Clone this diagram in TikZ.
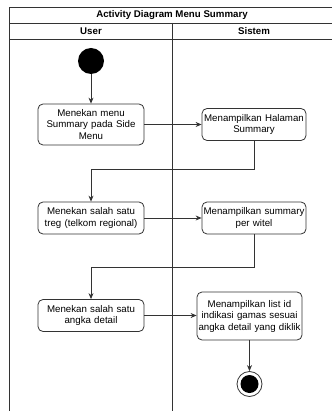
\documentclass[tikz,border=0pt]{standalone}
\usepackage{fontspec}
\setmainfont{Liberation Sans}
\usetikzlibrary{positioning,arrows.meta}
\definecolor{Line}{HTML}{333333}

\begin{document}
\begin{tikzpicture}[x=1pt, y=1pt, every node/.style={font=\fontsize{9.7}{11.5}\selectfont}]
        \tikzstyle{act}=[draw=Line, line width=0.8pt, rounded corners=5pt, align=center, inner sep=1pt, minimum height=32pt]
        \tikzstyle{flow}=[->, >={Stealth[length=6pt, width=5pt]}, line width=0.8pt, Line]
        \tikzstyle{lane}=[font=\fontsize{9.7}{11.5}\selectfont\bfseries]
        \useasboundingbox (0,0) rectangle (331,-411);
        % swimlane frame
        \draw[Line, line width=0.8pt] (9,-411) -- (9,-7) -- (340,-7);
        \draw[Line, line width=0.8pt] (9,-23) -- (340,-23);
        \draw[Line, line width=0.8pt] (9,-39) -- (340,-39);
        \draw[Line, line width=0.8pt] (172,-23) -- (172,-411);
        \node[lane] (title) at (172,-15) {Activity Diagram Menu Summary};
        \node[lane] (user) at (91,-31) {User};
        \node[lane] (sistem) at (254,-31) {Sistem};
        % actions
        \node[circle, fill=black, minimum size=26pt, inner sep=0pt] (start) at (91,-61) {};
        \node[act, minimum width=106pt, minimum height=41pt, text width=100pt] (menu) at (91,-124.5) {Menekan menu\\Summary pada Side\\Menu};
        \node[act, minimum width=104pt, text width=102pt] (halaman) at (254,-124.5) {Menampilkan Halaman\\Summary};
        \node[act, minimum width=106pt, text width=104pt] (treg) at (91,-218) {Menekan salah satu\\treg (telkom regional)};
        \node[act, minimum width=104pt, text width=102pt] (witel) at (254,-218) {Menampilkan summary\\per witel};
        \node[act, minimum width=106pt, text width=100pt] (angka) at (91,-315.5) {Menekan salah satu\\angka detail};
        \node[act, minimum width=105pt, minimum height=48pt, text width=103pt] (list) at (249.5,-316) {Menampilkan list id\\indikasi gamas sesuai\\angka detail yang diklik};
        \node[circle, draw=Line, line width=0.8pt, fill=white, minimum size=25pt, inner sep=0pt] (end) at (249.5,-384) {};
        \node[circle, fill=black, minimum size=18pt, inner sep=0pt] (endin) at (end) {};
        % flows
        \draw[flow] (start) -- (menu);
        \draw[flow] (menu) -- (menu -| halaman.west);
        \draw[flow] (halaman.south) -- ++(0,-29) -| (treg.north);
        \draw[flow] (treg) -- (witel);
        \draw[flow] (witel.south) -- ++(0,-33) -| (angka.north);
        \draw[flow] (angka) -- (angka -| list.west);
        \draw[flow] (list) -- (end);
      \end{tikzpicture}
\end{document}
